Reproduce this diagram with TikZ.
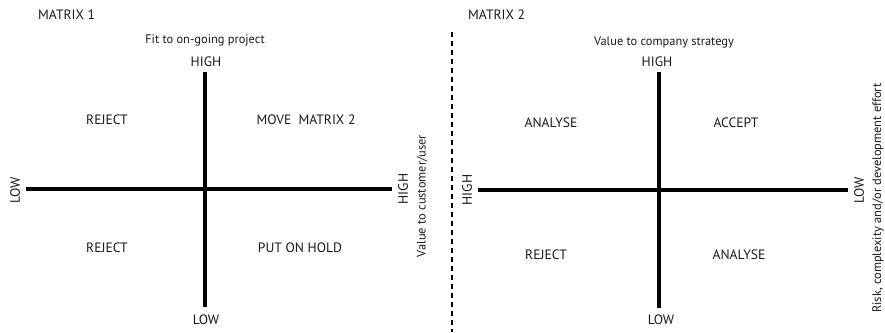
\documentclass[tikz,border=0pt]{standalone}
\usepackage{fontspec}
\setmainfont{PT Sans}
\begin{document}
\begin{tikzpicture}[x=1pt,y=-1pt,
  lbl/.style={inner sep=0pt, font=\fontsize{13.6}{15}\selectfont, text=black!90},
  ttl/.style={lbl, font=\fontsize{12.4}{14}\selectfont},
  axisline/.style={line width=3.5pt, black},
  divider/.style={line width=1.4pt, black, dash pattern=on 5pt off 4pt}]
\useasboundingbox (0,0) rectangle (885,332);

% ---- Matrix 1 ----
\node[lbl, anchor=west] (m1) at (38,15) {MATRIX 1};
\node[ttl] (m1ytitle) at (205,40) {Fit to on-going project};
\node[lbl] (m1yhigh) at (206,62) {HIGH};
\node[lbl] (m1ylow) at (206,320) {LOW};
\node[lbl, rotate=90] (m1xlow) at (15,190) {LOW};
\node[lbl, rotate=90] (m1xhigh) at (403,189) {HIGH};
\node[ttl, rotate=90] (m1xtitle) at (422,196) {Value to customer/user};
\coordinate (m1top) at (205,72);
\coordinate (m1bot) at (205,307);
\coordinate (m1left) at (26,189);
\coordinate (m1right) at (392,189);
\draw[axisline] (m1top) -- (m1bot);
\draw[axisline] (m1left) -- (m1right);
\node[lbl] (m1q1) at (107,120) {REJECT};
\node[lbl] (m1q2) at (306,120) {MOVE\ \ MATRIX 2};
\node[lbl] (m1q3) at (107,248) {REJECT};
\node[lbl] (m1q4) at (300,248) {PUT ON HOLD};

% ---- divider ----
\coordinate (divtop) at (452,32);
\coordinate (divbot) at (452,332);
\draw[divider] (divtop) -- (divbot);

% ---- Matrix 2 ----
\node[lbl, anchor=west] (m2) at (468,15) {MATRIX 2};
\node[ttl] (m2ytitle) at (664,42) {Value to company strategy};
\node[lbl] (m2yhigh) at (657,62) {HIGH};
\node[lbl] (m2ylow) at (661,320) {LOW};
\node[lbl, rotate=90] (m2xhigh) at (467,190) {HIGH};
\node[lbl, rotate=90] (m2xlow) at (859,190) {LOW};
\node[ttl, rotate=90] (m2xtitle) at (878,198) {Risk, complexity and/or development effort};
\coordinate (m2top) at (659,72);
\coordinate (m2bot) at (659,308);
\coordinate (m2left) at (478,190);
\coordinate (m2right) at (848,190);
\draw[axisline] (m2top) -- (m2bot);
\draw[axisline] (m2left) -- (m2right);
\node[lbl] (m2q1) at (551,123) {ANALYSE};
\node[lbl] (m2q2) at (736,123) {ACCEPT};
\node[lbl] (m2q3) at (546,255) {REJECT};
\node[lbl] (m2q4) at (739,255) {ANALYSE};
\end{tikzpicture}
\end{document}
